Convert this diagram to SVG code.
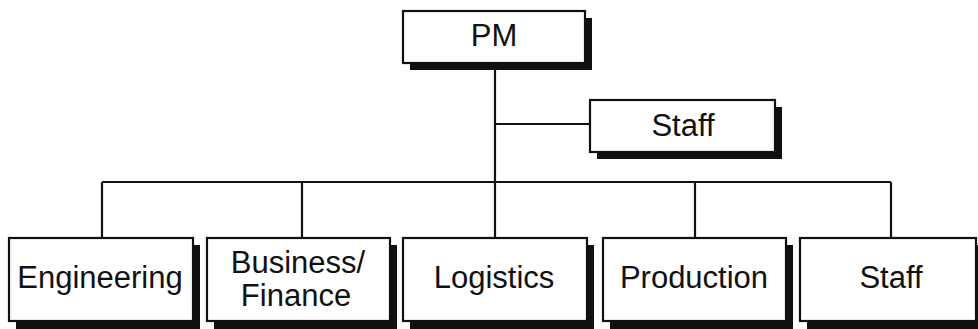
<svg xmlns="http://www.w3.org/2000/svg" width="978" height="329" viewBox="0 0 978 329">
<style>
.shadow{fill:#111}
.box{fill:#fff;stroke:#111;stroke-width:2.2}
.lbl{font-family:"Liberation Sans",Arial,sans-serif;font-size:31px;fill:#111;text-anchor:middle}
.conn{stroke:#111;stroke-width:2.2;fill:none}
</style>
<rect width="978" height="329" fill="#fff"/>
<g id="connectors">
<path class="conn" d="M495,63 V182 M495,124 H590 M102,182 H891 M102,182 V238 M302,182 V238 M495,182 V238 M695,182 V238 M891,182 V238"/>
</g>
<g id="pm">
<rect class="shadow" x="410" y="18" width="182" height="52"/>
<rect class="box" x="403" y="11" width="182" height="52"/>
<text class="lbl" x="494" y="46">PM</text>
</g>
<g id="staff-top">
<rect class="shadow" x="597" y="107" width="185" height="52"/>
<rect class="box" x="590" y="100" width="185" height="52"/>
<text class="lbl" x="683" y="136">Staff</text>
</g>
<g id="engineering">
<rect class="shadow" x="16" y="245" width="184" height="84"/>
<rect class="box" x="9" y="238" width="184" height="83"/>
<text class="lbl" x="100" y="288">Engineering</text>
</g>
<g id="business">
<rect class="shadow" x="214" y="245" width="183" height="84"/>
<rect class="box" x="207" y="238" width="183" height="83"/>
<text class="lbl" x="298" y="273">Business/</text>
<text class="lbl" x="296" y="306">Finance</text>
</g>
<g id="logistics">
<rect class="shadow" x="410" y="245" width="184" height="84"/>
<rect class="box" x="403" y="238" width="184" height="83"/>
<text class="lbl" x="494" y="288">Logistics</text>
</g>
<g id="production">
<rect class="shadow" x="610" y="245" width="183" height="84"/>
<rect class="box" x="603" y="238" width="183" height="83"/>
<text class="lbl" x="694" y="288">Production</text>
</g>
<g id="staff-bottom">
<rect class="shadow" x="807" y="245" width="176" height="84"/>
<rect class="box" x="800" y="238" width="176" height="83"/>
<text class="lbl" x="891" y="288">Staff</text>
</g>
</svg>
